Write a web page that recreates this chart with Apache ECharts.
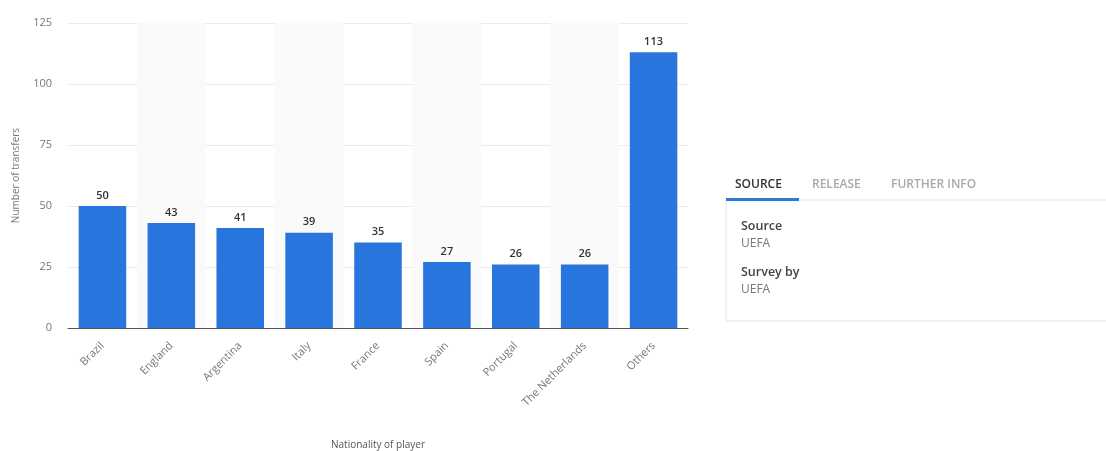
<!DOCTYPE html>
<html>
<head>
<meta charset="utf-8">
<script src="https://cdn.jsdelivr.net/npm/echarts@6/dist/echarts.min.js"></script>
<style>
html,body{margin:0;padding:0;background:#fff;}
#c{width:1106px;height:451px;}
</style>
</head>
<body>
<div id="c"></div>
<script>
const categories = ['Brazil','England','Argentina','Italy','France','Spain','Portugal','The Netherlands','Others'];
const transfers = [50, 43, 41, 39, 35, 27, 26, 26, 113];
const yTicks = [0, 25, 50, 75, 100, 125];
const tabLabels = ['SOURCE', 'RELEASE', 'FURTHER INFO'];
const infoRows = [['Source', 'UEFA'], ['Survey by', 'UEFA']];

const font = 'Open Sans, Noto Sans, sans-serif';
const chart = echarts.init(document.getElementById('c'), null, {renderer: 'canvas'});

const graphics = [];
const tabX = [735, 812, 891];
tabLabels.forEach((t, i) => {
  graphics.push({type: 'text', left: tabX[i], top: 179, style: {text: t, fill: i === 0 ? '#333' : '#a9a9a9', font: '600 12px ' + font}});
});
graphics.push({type: 'rect', shape: {x: 726, y: 200, width: 390, height: 121}, style: {fill: '#fff', stroke: '#e3e3e3', lineWidth: 1}});
graphics.push({type: 'rect', shape: {x: 726, y: 198, width: 73, height: 3}, style: {fill: '#2b7bd6'}});
infoRows.forEach((r, i) => {
  graphics.push({type: 'text', left: 741, top: 220 + i * 46, style: {text: r[0], fill: '#444', font: '600 12.5px ' + font}});
  graphics.push({type: 'text', left: 741, top: 238 + i * 46, style: {text: r[1], fill: '#777', font: '12px ' + font}});
});

chart.setOption({
  animation: false,
  grid: {left: 68, right: 418, top: 23, bottom: 123, outerBoundsMode: 'none'},
  xAxis: {
    type: 'category',
    data: categories,
    name: 'Nationality of player',
    nameLocation: 'middle',
    nameGap: 112,
    nameTextStyle: {color: '#555', fontSize: 10, fontFamily: font},
    axisLine: {lineStyle: {color: '#555', width: 1}},
    axisTick: {show: false},
    axisLabel: {rotate: 45, color: '#777', fontSize: 11, fontFamily: font, margin: 16, interval: 0},
    splitArea: {show: true, areaStyle: {color: ['rgba(255,255,255,0)', '#fafafa']}}
  },
  yAxis: {
    type: 'value',
    min: 0, max: 125, interval: 25,
    name: 'Number of transfers',
    nameLocation: 'middle',
    nameGap: 47,
    nameTextStyle: {color: '#777', fontSize: 10, fontFamily: font},
    axisLine: {show: false},
    axisTick: {show: false},
    axisLabel: {color: '#777', fontSize: 11, fontFamily: font, margin: 16,
      formatter: v => yTicks.includes(v) ? String(v) : ''},
    splitLine: {lineStyle: {color: '#ebebeb', width: 1}}
  },
  series: [{
    type: 'bar',
    data: transfers,
    barWidth: '69%',
    itemStyle: {color: '#2876dd'},
    label: {show: true, position: 'top', distance: 5, color: '#333', fontSize: 11, fontWeight: 600, fontFamily: font}
  }],
  graphic: graphics
});
</script>
</body>
</html>
